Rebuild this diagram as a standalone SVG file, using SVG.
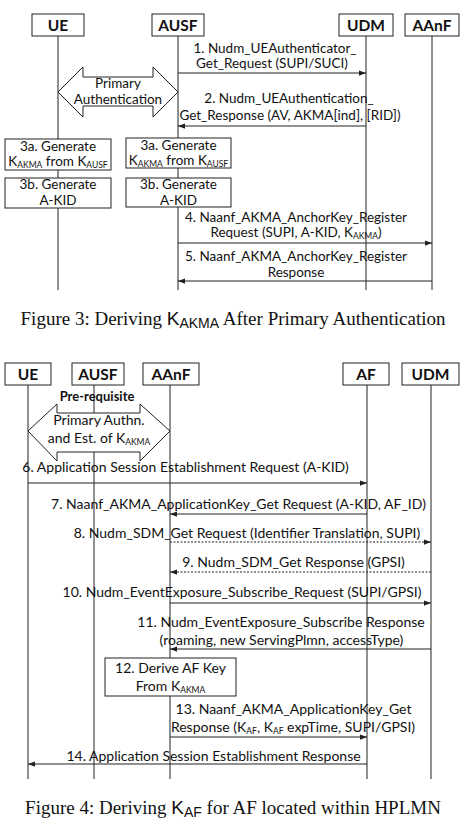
<svg xmlns="http://www.w3.org/2000/svg" width="472" height="831" viewBox="0 0 472 831">
<style>
.bg{fill:#fff}
.box{fill:#fff;stroke:#222;stroke-width:1}
.life{stroke:#222;stroke-width:1;fill:none}
.hd{font-family:Lato,"Liberation Sans",sans-serif;font-weight:bold;font-size:15.5px;fill:#111;text-anchor:middle}
.t{font-family:Lato,"Liberation Sans",sans-serif;font-size:13.5px;fill:#111;text-anchor:middle}
.t4{font-family:Lato,"Liberation Sans",sans-serif;font-size:14px;fill:#111;text-anchor:middle}
.tb{font-family:Lato,"Liberation Sans",sans-serif;font-size:13px;font-weight:bold;fill:#111;text-anchor:middle}
.sub{font-size:8.5px}
.msg{stroke:#222;stroke-width:1;fill:none}
.dash{stroke-dasharray:2,1.5}
.arr{fill:#fff;stroke:#222;stroke-width:1}
.cap{font-family:"Liberation Serif",serif;font-size:19px;fill:#111;text-anchor:middle}
.caps{font-family:"Liberation Sans",sans-serif}
</style>
<defs>
<marker id="ah" viewBox="0 0 8 8" refX="8" refY="4" markerWidth="7" markerHeight="7" markerUnits="userSpaceOnUse" orient="auto">
<path d="M0,1 L8,4 L0,7 z" fill="#222"/>
</marker>
</defs>
<rect class="bg" x="0" y="0" width="472" height="831"/>

<!-- ===== Figure 3 ===== -->
<g id="f3-ue">
<line class="life" x1="58" y1="36" x2="58" y2="290"/>
<rect class="box" x="32" y="14" width="52" height="22"/>
<text class="hd" x="58" y="31">UE</text>
</g>
<g id="f3-ausf">
<line class="life" x1="178" y1="36" x2="178" y2="290"/>
<rect class="box" x="152" y="14" width="52" height="22"/>
<text class="hd" x="178" y="31">AUSF</text>
</g>
<g id="f3-udm">
<line class="life" x1="366" y1="36" x2="366" y2="290"/>
<rect class="box" x="339" y="14" width="54" height="22"/>
<text class="hd" x="366" y="31">UDM</text>
</g>
<g id="f3-aanf">
<line class="life" x1="432" y1="36" x2="432" y2="290"/>
<rect class="box" x="405" y="14" width="54" height="22"/>
<text class="hd" x="432" y="31">AAnF</text>
</g>

<g id="f3-primary-auth">
<polygon class="arr" points="58,92 83,67 83,77 153,77 153,67 178,92 153,117 153,106 83,106 83,117"/>
<text class="t" x="118" y="88" font-size="13">Primary</text>
<text class="t" x="118" y="103.5" font-size="13">Authentication</text>
</g>

<g id="f3-step3a-ue">
<rect class="box" x="5" y="139" width="106" height="31"/>
<text class="t" x="58" y="151">3a. Generate</text>
<text class="t" x="58" y="166">K<tspan class="sub" dy="2">AKMA</tspan><tspan dy="-2"> from K</tspan><tspan class="sub" dy="2">AUSF</tspan></text>
</g>
<g id="f3-step3b-ue">
<rect class="box" x="5" y="178" width="106" height="30"/>
<text class="t" x="58" y="189">3b. Generate</text>
<text class="t" x="58" y="205">A-KID</text>
</g>
<g id="f3-step3a-ausf">
<rect class="box" x="126" y="138" width="105" height="30"/>
<text class="t" x="178.5" y="150">3a. Generate</text>
<text class="t" x="178.5" y="165">K<tspan class="sub" dy="2">AKMA</tspan><tspan dy="-2"> from K</tspan><tspan class="sub" dy="2">AUSF</tspan></text>
</g>
<g id="f3-step3b-ausf">
<rect class="box" x="126" y="178" width="105" height="29"/>
<text class="t" x="178.5" y="189">3b. Generate</text>
<text class="t" x="178.5" y="205">A-KID</text>
</g>

<g id="f3-connectors">
<line class="msg" x1="178" y1="73" x2="366" y2="73" marker-end="url(#ah)"/>
<line class="msg" x1="366" y1="126" x2="178" y2="126" marker-end="url(#ah)"/>
<line class="msg" x1="178" y1="243" x2="432" y2="243" marker-end="url(#ah)"/>
<line class="msg" x1="432" y1="281" x2="178" y2="281" marker-end="url(#ah)"/>
</g>
<g id="f3-labels">
<text class="t" x="275" y="53">1. Nudm_UEAuthenticator_</text>
<text class="t" x="272" y="68">Get_Request (SUPI/SUCI)</text>
<text class="t" x="289" y="103">2. Nudm_UEAuthentication_</text>
<text class="t" x="290" y="120">Get_Response (AV, AKMA[ind], [RID])</text>
<text class="t" x="296" y="222">4. Naanf_AKMA_AnchorKey_Register</text>
<text class="t" x="296" y="237">Request (SUPI, A-KID, K<tspan class="sub" dy="2">AKMA</tspan><tspan dy="-2">)</tspan></text>
<text class="t" x="296" y="261">5. Naanf_AKMA_AnchorKey_Register</text>
<text class="t" x="296" y="277">Response</text>
</g>

<text class="cap" x="233" y="325">Figure 3: Deriving <tspan class="caps">K</tspan><tspan class="caps" font-size="14" dy="3">AKMA</tspan><tspan dy="-3"> After Primary Authentication</tspan></text>

<!-- ===== Figure 4 ===== -->
<g id="f4-ue">
<line class="life" x1="28" y1="385" x2="28" y2="779"/>
<rect class="box" x="5" y="363" width="46" height="22"/>
<text class="hd" x="28" y="380">UE</text>
</g>
<g id="f4-ausf">
<line class="life" x1="94" y1="385" x2="94" y2="779"/>
<rect class="box" x="72" y="363" width="52" height="22"/>
<text class="hd" x="98" y="380">AUSF</text>
</g>
<g id="f4-aanf">
<line class="life" x1="170" y1="385" x2="170" y2="779"/>
<rect class="box" x="143" y="363" width="56" height="22"/>
<text class="hd" x="171" y="380">AAnF</text>
</g>
<g id="f4-af">
<line class="life" x1="367" y1="385" x2="367" y2="779"/>
<rect class="box" x="343" y="363" width="46" height="22"/>
<text class="hd" x="366" y="380">AF</text>
</g>
<g id="f4-udm">
<line class="life" x1="431" y1="385" x2="431" y2="779"/>
<rect class="box" x="402" y="363" width="57" height="22"/>
<text class="hd" x="430.5" y="380">UDM</text>
</g>

<g id="f4-prerequisite">
<polygon class="arr" points="28,431 57,404 57,413 140,413 140,404 170,431 140,461 140,452 57,452 57,461"/>
<text class="tb" x="97" y="401">Pre-requisite</text>
<text class="t4" x="99" y="425">Primary Authn.</text>
<text class="t4" x="99" y="443">and Est. of K<tspan class="sub" dy="2">AKMA</tspan></text>
</g>

<g id="f4-step12">
<rect class="box" x="105" y="658" width="131" height="38"/>
<text class="t4" x="170.5" y="673">12. Derive AF Key</text>
<text class="t4" x="170.5" y="691">From K<tspan class="sub" dy="2">AKMA</tspan></text>
</g>

<g id="f4-connectors">
<line class="msg" x1="28" y1="483" x2="367" y2="483" marker-end="url(#ah)"/>
<line class="msg" x1="367" y1="514" x2="170" y2="514" marker-end="url(#ah)"/>
<line class="msg dash" x1="170" y1="542" x2="431" y2="542" marker-end="url(#ah)"/>
<line class="msg dash" x1="431" y1="572" x2="170" y2="572" marker-end="url(#ah)"/>
<line class="msg" x1="170" y1="603" x2="431" y2="603" marker-end="url(#ah)"/>
<line class="msg" x1="431" y1="649" x2="170" y2="649" marker-end="url(#ah)"/>
<line class="msg" x1="170" y1="737" x2="367" y2="737" marker-end="url(#ah)"/>
<line class="msg" x1="367" y1="764" x2="28" y2="764" marker-end="url(#ah)"/>
</g>
<g id="f4-labels">
<text class="t4" x="185.5" y="472">6. Application Session Establishment Request (A-KID)</text>
<text class="t4" x="238.5" y="509">7. Naanf_AKMA_ApplicationKey_Get Request (A-KID, AF_ID)</text>
<text class="t4" x="247" y="538">8. Nudm_SDM_Get Request (Identifier Translation, SUPI)</text>
<text class="t4" x="293.5" y="567">9. Nudm_SDM_Get Response (GPSI)</text>
<text class="t4" x="242" y="597">10. Nudm_EventExposure_Subscribe_Request (SUPI/GPSI)</text>
<text class="t4" x="281" y="627">11. Nudm_EventExposure_Subscribe Response</text>
<text class="t4" x="281.5" y="645">(roaming, new ServingPlmn, accessType)</text>
<text class="t4" x="293.5" y="714">13. Naanf_AKMA_ApplicationKey_Get</text>
<text class="t4" x="293" y="732">Response (K<tspan class="sub" dy="2">AF</tspan><tspan dy="-2">, K</tspan><tspan class="sub" dy="2">AF</tspan><tspan dy="-2"> expTime, SUPI/GPSI)</tspan></text>
<text class="t4" x="213.5" y="761">14. Application Session Establishment Response</text>
</g>

<text class="cap" x="233" y="814">Figure 4: Deriving <tspan class="caps">K</tspan><tspan class="caps" font-size="14" dy="3">AF</tspan><tspan dy="-3"> for AF located within HPLMN</tspan></text>
</svg>
